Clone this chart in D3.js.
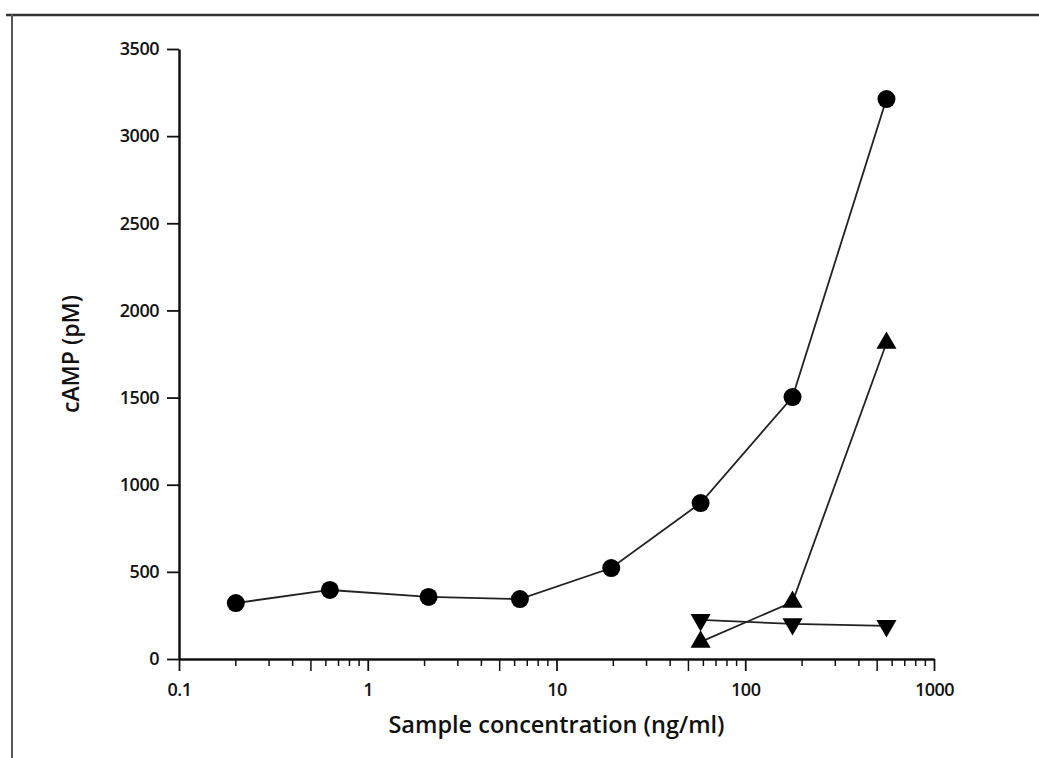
<!DOCTYPE html>
<html>
<head>
<meta charset="utf-8">
<script src="https://cdnjs.cloudflare.com/ajax/libs/d3/7.8.5/d3.min.js"></script>
<style>
  body { margin: 0; background: #fff; }
  text { font-family: "Open Sans", "Noto Sans", sans-serif; fill: #111; }
</style>
</head>
<body>
<div id="chart"></div>
<script>
// Data
var concCircle = [0.2, 0.63, 2.1, 6.4, 19.5, 58, 178, 560];
var campCircle = [321, 396, 356, 344, 522, 895, 1503, 3213];

var concUp = [58, 178, 560];
var campUp = [98, 327, 1813];

var concDown = [58, 178, 560];
var campDown = [225, 201, 190];

var xTickValues = [0.1, 1, 10, 100, 1000];
var xTickLabels = ["0.1", "1", "10", "100", "1000"];
var yTickValues = [0, 500, 1000, 1500, 2000, 2500, 3000, 3500];

// svg size
var svgWidth = 1039;
var svgHeight = 758;

var margin = { top: 49, right: 105, bottom: 99, left: 179 };
var width = svgWidth - margin.left - margin.right;
var height = svgHeight - margin.top - margin.bottom;

var svg = d3.select("#chart")
  .append("svg")
  .attr("width", svgWidth)
  .attr("height", svgHeight);

// scanned frame: top and left edge only
svg.append("line")
  .attr("x1", 6).attr("y1", 15).attr("x2", svgWidth).attr("y2", 15)
  .attr("stroke", "#333").attr("stroke-width", 2.5);
svg.append("line")
  .attr("x1", 12).attr("y1", 14).attr("x2", 12).attr("y2", svgHeight)
  .attr("stroke", "#555").attr("stroke-width", 2);

var chartGroup = svg.append("g")
  .attr("transform", `translate(${margin.left}, ${margin.top})`);

// scales
var xLogScale = d3.scaleLog()
  .domain([0.1, 1000])
  .range([0, width]);

var yLinearScale = d3.scaleLinear()
  .domain([0, 3500])
  .range([height, 0]);

// minor ticks for the log axis (2..9 in each decade)
var minorTicks = [];
xTickValues.slice(0, -1).forEach(function(d) {
  for (var k = 2; k <= 9; k++) minorTicks.push(d * k);
});

var minorGroup = chartGroup.append("g")
  .attr("transform", `translate(0, ${height})`);
minorGroup.selectAll("line")
  .data(minorTicks)
  .enter()
  .append("line")
  .attr("x1", d => xLogScale(d))
  .attr("x2", d => xLogScale(d))
  .attr("y1", 0)
  .attr("y2", d => (Math.abs(d / Math.pow(10, Math.floor(Math.log10(d) + 1e-9)) - 5) < 1e-6 ? 12 : 7))
  .attr("stroke", "#111")
  .attr("stroke-width", 1.5);

// x axis
var bottomAxis = d3.axisBottom(xLogScale)
  .tickValues(xTickValues)
  .tickFormat((d, i) => xTickLabels[i])
  .tickSize(12)
  .tickSizeOuter(0)
  .tickPadding(12);

var xAxis = chartGroup.append("g")
  .attr("transform", `translate(0, ${height})`)
  .call(bottomAxis);

// y axis
var leftAxis = d3.axisLeft(yLinearScale)
  .tickValues(yTickValues)
  .tickFormat(d3.format("d"))
  .tickSize(12)
  .tickSizeOuter(0)
  .tickPadding(8);

var yAxis = chartGroup.append("g")
  .call(leftAxis);

[xAxis, yAxis].forEach(function(ax) {
  ax.select(".domain").attr("stroke", "#111").attr("stroke-width", 2.5);
  ax.selectAll(".tick line").attr("stroke", "#111").attr("stroke-width", 1.8);
  ax.selectAll(".tick text")
    .style("font-family", "'Open Sans', sans-serif")
    .style("font-size", "18px")
    .style("font-weight", 600)
    .style("letter-spacing", "-0.5px")
    .attr("fill", "#111");
});

// lines
var line = d3.line()
  .x(d => xLogScale(d[0]))
  .y(d => yLinearScale(d[1]));

var circleData = concCircle.map((c, i) => [c, campCircle[i]]);
var upData = concUp.map((c, i) => [c, campUp[i]]);
var downData = concDown.map((c, i) => [c, campDown[i]]);

[circleData, downData, upData].forEach(function(series) {
  chartGroup.append("path")
    .datum(series)
    .attr("d", line)
    .attr("fill", "none")
    .attr("stroke", "#222")
    .attr("stroke-width", 1.8);
});

// markers
chartGroup.selectAll(".dot")
  .data(circleData)
  .enter()
  .append("circle")
  .attr("class", "dot")
  .attr("cx", d => xLogScale(d[0]))
  .attr("cy", d => yLinearScale(d[1]))
  .attr("r", 9)
  .attr("fill", "#000");

var tri = d3.symbol().type(d3.symbolTriangle).size(175);

chartGroup.selectAll(".up")
  .data(upData)
  .enter()
  .append("path")
  .attr("class", "up")
  .attr("d", tri)
  .attr("transform", d => `translate(${xLogScale(d[0])}, ${yLinearScale(d[1])})`)
  .attr("fill", "#000");

chartGroup.selectAll(".down")
  .data(downData)
  .enter()
  .append("path")
  .attr("class", "down")
  .attr("d", tri)
  .attr("transform", d => `translate(${xLogScale(d[0])}, ${yLinearScale(d[1])}) rotate(180)`)
  .attr("fill", "#000");

// axis titles
chartGroup.append("text")
  .attr("transform", "rotate(-90)")
  .attr("x", 0 - (height / 2))
  .attr("y", -100)
  .attr("text-anchor", "middle")
  .style("font-size", "23px")
  .style("font-weight", 600)
  .text("cAMP (pM)");

chartGroup.append("text")
  .attr("x", xLogScale(10))
  .attr("y", height + 74)
  .attr("text-anchor", "middle")
  .style("font-size", "23.5px")
  .style("font-weight", 600)
  .text("Sample concentration (ng/ml)");
</script>
</body>
</html>
